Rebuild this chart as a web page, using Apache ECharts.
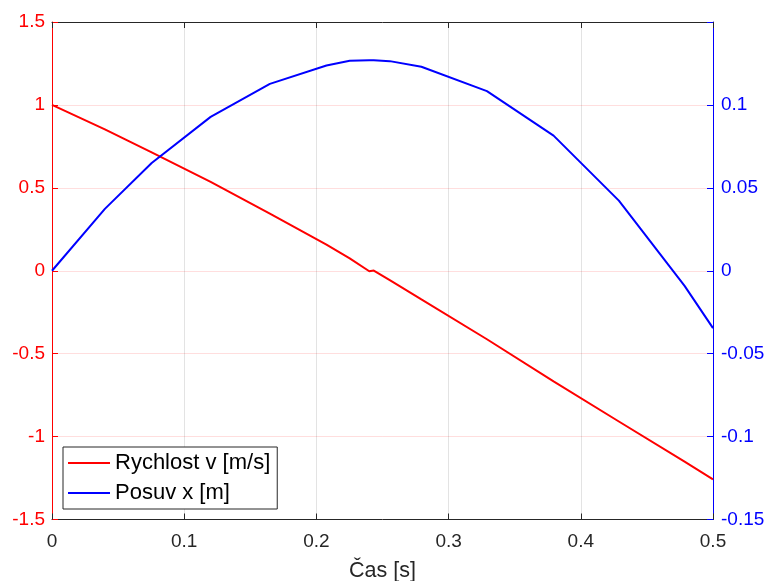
<!DOCTYPE html>
<html>
<head>
<meta charset="utf-8">
<script src="https://cdn.jsdelivr.net/npm/echarts@6/dist/echarts.min.js"></script>
<style>
  html, body { margin: 0; padding: 0; background: #ffffff; }
  #chart { width: 768px; height: 581px; }
</style>
</head>
<body>
<div id="chart"></div>
<script>
// Solver output: time steps [s], velocity [m/s], displacement [m]
const time = [0, 0.04, 0.0754, 0.12, 0.1648, 0.2076, 0.2252, 0.24, 0.2434, 0.2555, 0.2794, 0.329, 0.3794, 0.4288, 0.4785, 0.5];
const velocity = [1.0, 0.852, 0.714, 0.536, 0.345, 0.158, 0.075, -0.003, 0.001, -0.057, -0.173, -0.413, -0.667, -0.909, -1.151, -1.258];
const displacement = [0, 0.0373, 0.065, 0.0928, 0.1127, 0.1238, 0.1266, 0.1269, 0.1269, 0.1264, 0.123, 0.1083, 0.0815, 0.0423, -0.0091, -0.0346];

// Tick labels
const timeTicks = [0, 0.1, 0.2, 0.3, 0.4, 0.5];
const velocityTicks = [-1.5, -1, -0.5, 0, 0.5, 1, 1.5];
const displacementTicks = [-0.15, -0.1, -0.05, 0, 0.05, 0.1];

const seriesNames = ['Rychlost v [m/s]', 'Posuv x [m]'];

const FONT = "'Liberation Sans', Arial, Helvetica, sans-serif";
const DARK = '#262626';
const RED = '#ff0000';
const BLUE = '#0000ff';

// plain line sample for the legend (bounding box 42 x 14, bar 2 px thick)
const LEGEND_LINE = 'path://M0,0M0,6L42,6L42,8L0,8ZM42,14';

function pickLabel(ticks) {
  return function (v) {
    return ticks.some(t => Math.abs(t - v) < 1e-9) ? String(Math.round(v * 1000) / 1000) : '';
  };
}

const velocityPoints = time.map((t, i) => [t, velocity[i]]);
const displacementPoints = time.map((t, i) => [t, displacement[i]]);

const chart = echarts.init(document.getElementById('chart'), null, { renderer: 'canvas' });

chart.setOption({
  animation: false,
  backgroundColor: '#ffffff',
  grid: { left: 52, right: 55, top: 22, bottom: 61.5, containLabel: false, outerBoundsMode: 'none' },
  legend: {
    orient: 'vertical',
    left: 63,
    top: 447,
    data: seriesNames.map(n => ({ name: n, icon: LEGEND_LINE })),
    itemWidth: 42,
    itemHeight: 14,
    itemGap: 6,
    padding: [4, 7, 4, 5],
    backgroundColor: '#ffffff',
    borderColor: DARK,
    borderWidth: 1,
    borderRadius: 0,
    textStyle: { fontFamily: FONT, fontSize: 22, color: '#000000', lineHeight: 24 }
  },
  xAxis: [
    {
      type: 'value',
      position: 'bottom',
      min: 0,
      max: 0.5,
      interval: 0.1,
      name: 'Čas [s]',
      nameLocation: 'middle',
      nameGap: 41,
      nameTextStyle: { fontFamily: FONT, fontSize: 21.5, color: DARK },
      axisLine: { show: true, onZero: false, lineStyle: { color: DARK, width: 1 } },
      axisTick: { show: true, inside: true, length: 6, lineStyle: { color: DARK } },
      axisLabel: { fontFamily: FONT, fontSize: 19, color: DARK, margin: 13, formatter: pickLabel(timeTicks) },
      splitLine: { show: true, lineStyle: { color: 'rgba(38,38,38,0.13)', width: 1 } }
    },
    {
      type: 'value',
      position: 'top',
      min: 0,
      max: 0.5,
      interval: 0.1,
      axisLine: { show: true, onZero: false, lineStyle: { color: DARK, width: 1 } },
      axisTick: { show: true, inside: true, length: 6, lineStyle: { color: DARK } },
      axisLabel: { show: false },
      splitLine: { show: false }
    }
  ],
  yAxis: [
    {
      type: 'value',
      position: 'left',
      min: -1.5,
      max: 1.5,
      interval: 0.5,
      axisLine: { show: true, onZero: false, lineStyle: { color: RED, width: 1 } },
      axisTick: { show: true, inside: true, length: 6, lineStyle: { color: RED } },
      axisLabel: { fontFamily: FONT, fontSize: 19, color: RED, margin: 7, formatter: pickLabel(velocityTicks) },
      splitLine: { show: true, lineStyle: { color: 'rgba(255,0,0,0.13)', width: 1 } }
    },
    {
      type: 'value',
      position: 'right',
      min: -0.15,
      max: 0.15,
      interval: 0.05,
      axisLine: { show: true, onZero: false, lineStyle: { color: BLUE, width: 1 } },
      axisTick: { show: true, inside: true, length: 6, lineStyle: { color: BLUE } },
      axisLabel: { fontFamily: FONT, fontSize: 19, color: BLUE, margin: 8, formatter: pickLabel(displacementTicks) },
      splitLine: { show: false }
    }
  ],
  series: [
    {
      name: seriesNames[0],
      type: 'line',
      xAxisIndex: 0,
      yAxisIndex: 0,
      data: velocityPoints,
      symbol: 'none',
      showSymbol: false,
      smooth: false,
      lineStyle: { color: RED, width: 2 },
      itemStyle: { color: RED },
      z: 3
    },
    {
      name: seriesNames[1],
      type: 'line',
      xAxisIndex: 0,
      yAxisIndex: 1,
      data: displacementPoints,
      symbol: 'none',
      showSymbol: false,
      smooth: false,
      lineStyle: { color: BLUE, width: 2 },
      itemStyle: { color: BLUE },
      z: 3
    }
  ]
});
</script>
</body>
</html>
